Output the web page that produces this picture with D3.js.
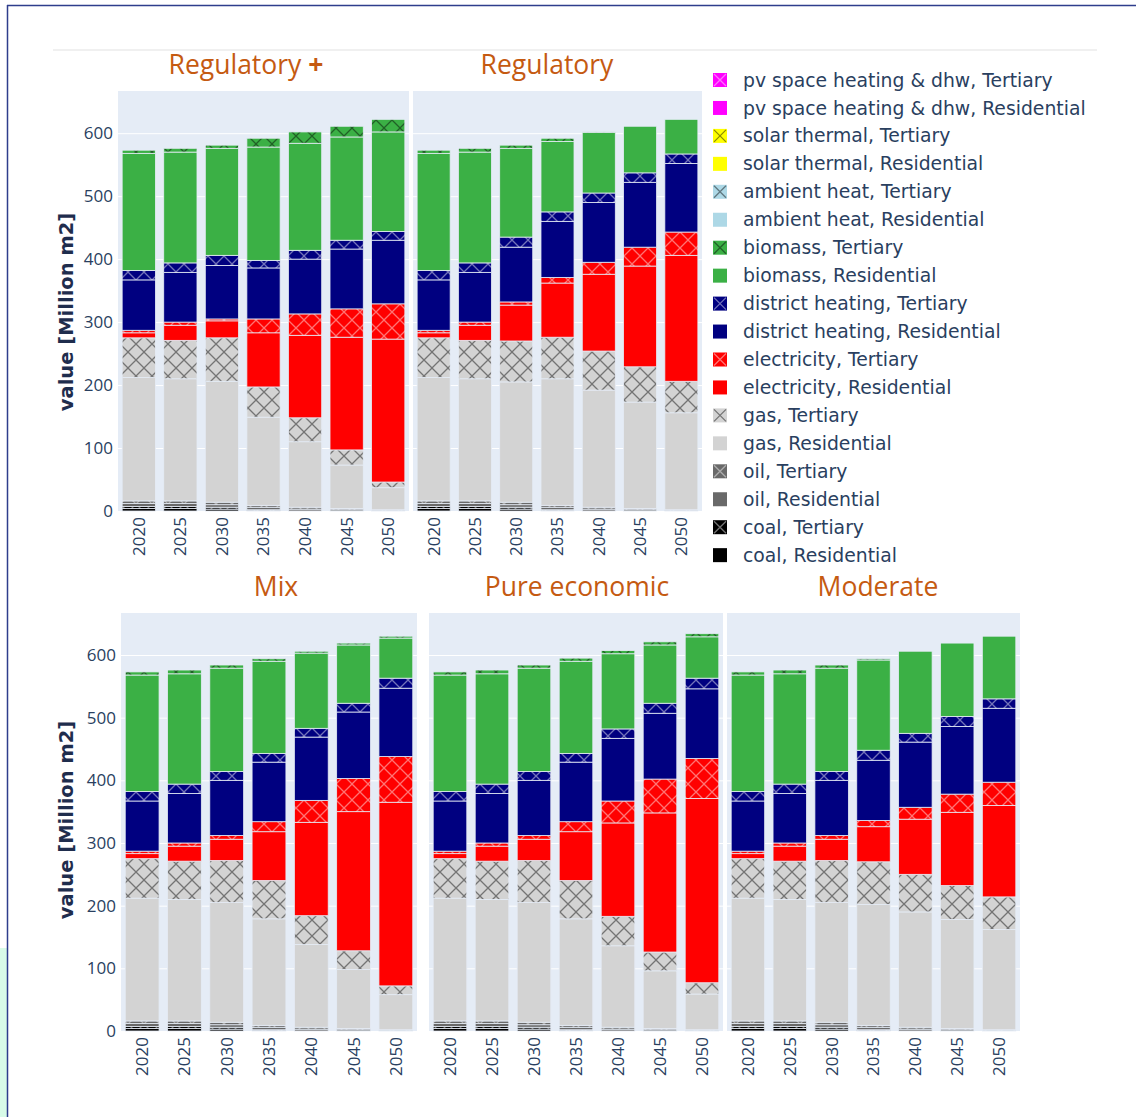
<!DOCTYPE html>
<html>
<head>
<meta charset="utf-8">
<script src="https://cdn.jsdelivr.net/npm/d3@7"></script>
<style>
  body { margin: 0; background: #ffffff; }
  svg { display: block; font-family: "Open Sans", sans-serif; }
</style>
</head>
<body>
<svg id="chart" width="1136" height="1117"></svg>
<script>
// ---- data -------------------------------------------------------------
const years = ["2020", "2025", "2030", "2035", "2040", "2045", "2050"];
const scenarios = ["Regulatory +", "Regulatory", "Mix", "Pure economic", "Moderate"];
const yTicks = [0, 100, 200, 300, 400, 500, 600];
const carriers = ["coal", "oil", "gas", "electricity", "district heating",
                  "biomass", "ambient heat", "solar thermal", "pv space heating & dhw"];
const sectors = ["Residential", "Tertiary"];

// heated floor area per carrier and sector, Million m2
// rows: Regulatory +, Regulatory, Mix, Pure economic, Moderate; columns: years
const coalResidential = [
  [4, 4, 3, 1, 0, 0, 0], [4, 4, 3, 1, 0, 0, 0], [4, 4, 3, 1, 0, 0, 0],
  [4, 4, 3, 1, 0, 0, 0], [4, 4, 3, 1, 0, 0, 0]];
const coalTertiary = [
  [3, 3, 3, 1, 0, 0, 0], [3, 3, 3, 1, 0, 0, 0], [3, 3, 3, 1, 0, 0, 0],
  [3, 3, 3, 1, 0, 0, 0], [3, 3, 3, 1, 0, 0, 0]];
const oilResidential = [
  [5, 5, 4, 4, 3, 2, 1], [5, 5, 4, 4, 3, 2, 1], [5, 5, 4, 4, 3, 2, 1],
  [5, 5, 4, 4, 3, 2, 1], [5, 5, 4, 4, 3, 2, 1]];
const oilTertiary = [
  [4, 4, 4, 3, 3, 2, 1], [4, 4, 4, 3, 3, 2, 1], [4, 4, 4, 3, 3, 2, 1],
  [4, 4, 4, 3, 3, 2, 1], [4, 4, 4, 3, 3, 2, 1]];
const gasResidential = [
  [196, 194, 192, 140, 104, 69, 35],
  [196, 194, 191, 201, 186, 169, 154],
  [196, 194, 191, 170, 132, 94, 56],
  [196, 194, 191, 170, 130, 92, 57],
  [196, 194, 191, 193, 184, 174, 160]];
const gasTertiary = [
  [63, 61, 69, 48, 38, 24, 9],
  [63, 61, 65, 66, 62, 56, 50],
  [63, 61, 67, 61, 46, 30, 14],
  [63, 61, 67, 61, 47, 30, 18],
  [63, 61, 67, 68, 60, 54, 52]];
const electricityResidential = [
  [8, 24, 27, 86, 131, 179, 227],
  [8, 24, 57, 86, 122, 160, 200],
  [8, 24, 34, 78, 149, 222, 293],
  [8, 24, 34, 78, 149, 222, 294],
  [8, 24, 34, 56, 88, 117, 146]];
const electricityTertiary = [
  [4, 5, 3, 22, 34, 45, 56],
  [4, 5, 5, 9, 19, 30, 37],
  [4, 5, 6, 16, 35, 53, 73],
  [4, 5, 6, 16, 35, 54, 64],
  [4, 5, 6, 10, 19, 29, 37]];
const districtHeatingResidential = [
  [80, 79, 85, 81, 87, 95, 101],
  [80, 79, 87, 89, 95, 103, 109],
  [80, 79, 88, 95, 101, 106, 109],
  [80, 79, 88, 95, 100, 105, 111],
  [80, 79, 88, 96, 104, 108, 118]];
const districtHeatingTertiary = [
  [15, 15, 16, 12, 14, 14, 14],
  [15, 15, 16, 15, 15, 15, 15],
  [15, 15, 14, 14, 14, 14, 16],
  [15, 15, 14, 14, 15, 16, 17],
  [15, 15, 14, 16, 14, 16, 15]];
const biomassResidential = [
  [186, 176, 170, 180, 170, 164, 158],
  [186, 176, 141, 112, 96, 74, 55],
  [186, 176, 165, 147, 120, 93, 64],
  [186, 176, 165, 147, 120, 93, 66],
  [186, 176, 165, 144, 131, 117, 100]];
const biomassTertiary = [
  [5, 6, 5, 14, 18, 17, 20],
  [5, 6, 5, 5, 1, 0, 0],
  [5, 6, 5, 4, 3, 3, 3],
  [5, 6, 5, 5, 5, 5, 5],
  [5, 6, 5, 2, 0, 0, 0]];
const ambientHeatResidential = [
  [0, 0, 0, 0, 0, 0, 0], [0, 0, 0, 0, 0, 0, 0], [0, 0, 0, 0, 0, 0, 0],
  [0, 0, 0, 0, 0, 0, 0], [0, 0, 0, 0, 0, 0, 0]];
const ambientHeatTertiary = [
  [0, 0, 0, 0, 0, 0, 0], [0, 0, 0, 0, 0, 0, 0], [0, 0, 0, 0, 0, 0, 0],
  [0, 0, 0, 0, 0, 0, 0], [0, 0, 0, 0, 0, 0, 0]];
const solarThermalResidential = [
  [0, 0, 0, 0, 0, 0, 0], [0, 0, 0, 0, 0, 0, 0], [0, 0, 0, 0, 0, 0, 0],
  [0, 0, 0, 0, 0, 0, 0], [0, 0, 0, 0, 0, 0, 0]];
const solarThermalTertiary = [
  [0, 0, 0, 0, 0, 0, 0], [0, 0, 0, 0, 0, 0, 0], [0, 0, 0, 0, 0, 0, 0],
  [0, 0, 0, 0, 0, 0, 0], [0, 0, 0, 0, 0, 0, 0]];
const pvResidential = [
  [0, 0, 0, 0, 0, 0, 0], [0, 0, 0, 0, 0, 0, 0], [0, 0, 0, 0, 0, 0, 0],
  [0, 0, 0, 0, 0, 0, 0], [0, 0, 0, 0, 0, 0, 0]];
const pvTertiary = [
  [0, 0, 0, 0, 0, 0, 0], [0, 0, 0, 0, 0, 0, 0], [0, 0, 0, 0, 0, 0, 0],
  [0, 0, 0, 0, 0, 0, 0], [0, 0, 0, 0, 0, 0, 0]];

// stacking order, bottom to top
const traces = [
  { carrier: "coal", sector: "Residential", values: coalResidential },
  { carrier: "coal", sector: "Tertiary", values: coalTertiary },
  { carrier: "oil", sector: "Residential", values: oilResidential },
  { carrier: "oil", sector: "Tertiary", values: oilTertiary },
  { carrier: "gas", sector: "Residential", values: gasResidential },
  { carrier: "gas", sector: "Tertiary", values: gasTertiary },
  { carrier: "electricity", sector: "Residential", values: electricityResidential },
  { carrier: "electricity", sector: "Tertiary", values: electricityTertiary },
  { carrier: "district heating", sector: "Residential", values: districtHeatingResidential },
  { carrier: "district heating", sector: "Tertiary", values: districtHeatingTertiary },
  { carrier: "biomass", sector: "Residential", values: biomassResidential },
  { carrier: "biomass", sector: "Tertiary", values: biomassTertiary },
  { carrier: "ambient heat", sector: "Residential", values: ambientHeatResidential },
  { carrier: "ambient heat", sector: "Tertiary", values: ambientHeatTertiary },
  { carrier: "solar thermal", sector: "Residential", values: solarThermalResidential },
  { carrier: "solar thermal", sector: "Tertiary", values: solarThermalTertiary },
  { carrier: "pv space heating & dhw", sector: "Residential", values: pvResidential },
  { carrier: "pv space heating & dhw", sector: "Tertiary", values: pvTertiary }
];

// ---- styling ----------------------------------------------------------
const carrierColor = {
  "coal": "#000000",
  "oil": "#696969",
  "gas": "#d3d3d3",
  "electricity": "#ff0000",
  "district heating": "#000080",
  "biomass": "#3bb045",
  "ambient heat": "#add8e6",
  "solar thermal": "#ffff00",
  "pv space heating & dhw": "#ff00ff"
};
function hatchColor(c) {
  const rgb = d3.rgb(c);
  const bright = (rgb.r * 299 + rgb.g * 587 + rgb.b * 114) / 1000;
  return bright >= 128 ? "#000000" : "#ffffff";
}
const TITLE_COLOR = "#c55a11";
const TEXT_COLOR = "#2a3f5f";
const PLOT_BG = "#e5ecf6";
const keyOf = t => t.carrier + ", " + t.sector;
const patId = c => "hatch-" + c.replace(/[^a-z]/g, "");

const rows = [
  { top: 91, bottom: 511, labelY: 312 },
  { top: 613, bottom: 1031, labelY: 820 }
];
const panels = [
  { s: 0, row: 0, x0: 118, x1: 409, axis: true, tx: 246 },
  { s: 1, row: 0, x0: 413, x1: 702, axis: false, tx: 547 },
  { s: 2, row: 1, x0: 121, x1: 417, axis: true, tx: 276 },
  { s: 3, row: 1, x0: 429, x1: 723, axis: false, tx: 577 },
  { s: 4, row: 1, x0: 727, x1: 1020, axis: false, tx: 878 }
];
const Y_MAX = 667;

const svg = d3.select("#chart");

// page decoration: frame and faint rule
svg.append("rect").attr("x", 0).attr("y", 948).attr("width", 7).attr("height", 169)
  .attr("fill", "#d8fbe8");
svg.append("line").attr("x1", 7).attr("x2", 1136).attr("y1", 5.5).attr("y2", 5.5)
  .attr("stroke", "#2e3d8c").attr("stroke-width", 1.5);
svg.append("line").attr("x1", 7.5).attr("x2", 7.5).attr("y1", 5).attr("y2", 1117)
  .attr("stroke", "#2e3d8c").attr("stroke-width", 1.5);
svg.append("line").attr("x1", 53).attr("x2", 1097).attr("y1", 50).attr("y2", 50)
  .attr("stroke", "#f0f0f0").attr("stroke-width", 2);

// hatch patterns for tertiary traces
const defs = svg.append("defs");
const CELL = 16;
carriers.forEach(c => {
  const p = defs.append("pattern").attr("id", patId(c))
    .attr("patternUnits", "userSpaceOnUse").attr("width", CELL).attr("height", CELL);
  p.append("rect").attr("width", CELL).attr("height", CELL).attr("fill", carrierColor[c]);
  p.append("path").attr("d", `M0,0L${CELL},${CELL}M${CELL},0L0,${CELL}`)
    .attr("stroke", hatchColor(carrierColor[c])).attr("stroke-opacity", 0.45)
    .attr("stroke-width", 1.3);
});
const fillOf = t => t.sector === "Tertiary" ? `url(#${patId(t.carrier)})` : carrierColor[t.carrier];

// ---- panels -----------------------------------------------------------
const keys = traces.map(keyOf);
panels.forEach(pn => {
  const r = rows[pn.row];
  const x = d3.scaleBand().domain(years).range([pn.x0, pn.x1]).paddingInner(0.2).paddingOuter(0.1);
  const y = d3.scaleLinear().domain([0, Y_MAX]).range([r.bottom, r.top]);
  const g = svg.append("g");

  g.append("rect").attr("x", pn.x0).attr("y", r.top)
    .attr("width", pn.x1 - pn.x0).attr("height", r.bottom - r.top).attr("fill", PLOT_BG);

  // gridlines
  const grid = g.append("g").attr("transform", `translate(${pn.x0},0)`)
    .call(d3.axisLeft(y).tickValues(yTicks.filter(v => v > 0)).tickSize(-(pn.x1 - pn.x0)).tickFormat(""));
  grid.select(".domain").remove();
  grid.selectAll("line").attr("stroke", "#ffffff").attr("stroke-width", 1);

  // stacked bars
  const table = years.map((yr, i) => {
    const row = { year: yr };
    traces.forEach(t => { row[keyOf(t)] = t.values[pn.s][i]; });
    return row;
  });
  const stacked = d3.stack().keys(keys)(table);
  stacked.forEach((layer, li) => {
    const t = traces[li];
    g.append("g").selectAll("rect").data(layer.filter(d => d[1] - d[0] > 0)).join("rect")
      .attr("x", d => x(d.data.year))
      .attr("width", x.bandwidth())
      .attr("y", d => y(d[1]))
      .attr("height", d => y(d[0]) - y(d[1]))
      .attr("fill", fillOf(t))
      .attr("stroke", PLOT_BG).attr("stroke-width", 0.8);
  });

  // x axis
  const xa = g.append("g").attr("transform", `translate(0,${r.bottom})`)
    .call(d3.axisBottom(x).tickSize(0));
  xa.select(".domain").remove();
  xa.selectAll("text")
    .attr("transform", "rotate(-90)")
    .attr("text-anchor", "end")
    .attr("x", -6).attr("y", 0).attr("dy", "0.35em")
    .attr("fill", TEXT_COLOR).style("font-size", "17px").style("font-family", "Open Sans");

  // y axis
  if (pn.axis) {
    const ya = g.append("g").attr("transform", `translate(${pn.x0},0)`)
      .call(d3.axisLeft(y).tickValues(yTicks).tickSize(0).tickPadding(5));
    ya.select(".domain").remove();
    ya.selectAll("text").attr("fill", TEXT_COLOR).style("font-size", "17px").style("font-family", "Open Sans");
    svg.append("text")
      .attr("transform", `translate(66,${r.labelY}) rotate(-90)`)
      .attr("text-anchor", "middle").attr("dy", "0.35em")
      .attr("fill", "#1f2d4d").style("font-family", "DejaVu Sans")
      .style("font-size", "19.5px").style("font-weight", "700")
      .text("value [Million m2]");
  }

  // panel title
  const name = scenarios[pn.s];
  const title = svg.append("text").attr("x", pn.tx).attr("y", r.top - 17)
    .attr("text-anchor", "middle").attr("fill", TITLE_COLOR).style("font-size", "26.5px");
  if (name.endsWith(" +")) {
    title.append("tspan").text(name.slice(0, -2) + " ");
    title.append("tspan").style("font-weight", "700").text("+");
  } else {
    title.text(name);
  }
});

// ---- legend (top of stack first) ---------------------------------------
const legend = svg.append("g");
const legendItems = traces.slice().reverse();
legendItems.forEach((t, i) => {
  const cy = 80 + i * 27.95;
  const item = legend.append("g").attr("transform", `translate(713,${cy})`);
  item.append("rect").attr("x", 0).attr("y", -7).attr("width", 14).attr("height", 14)
    .attr("fill", carrierColor[t.carrier]);
  if (t.sector === "Tertiary") {
    item.append("path").attr("d", "M1,-6L13,6M13,-6L1,6")
      .attr("stroke", hatchColor(carrierColor[t.carrier])).attr("stroke-opacity", 0.45)
      .attr("stroke-width", 1.3);
  }
  item.append("text").attr("x", 30).attr("y", 0).attr("dy", "0.35em")
    .attr("fill", TEXT_COLOR).style("font-family", "DejaVu Sans").style("font-size", "18.8px")
    .text(keyOf(t));
});
</script>
</body>
</html>
